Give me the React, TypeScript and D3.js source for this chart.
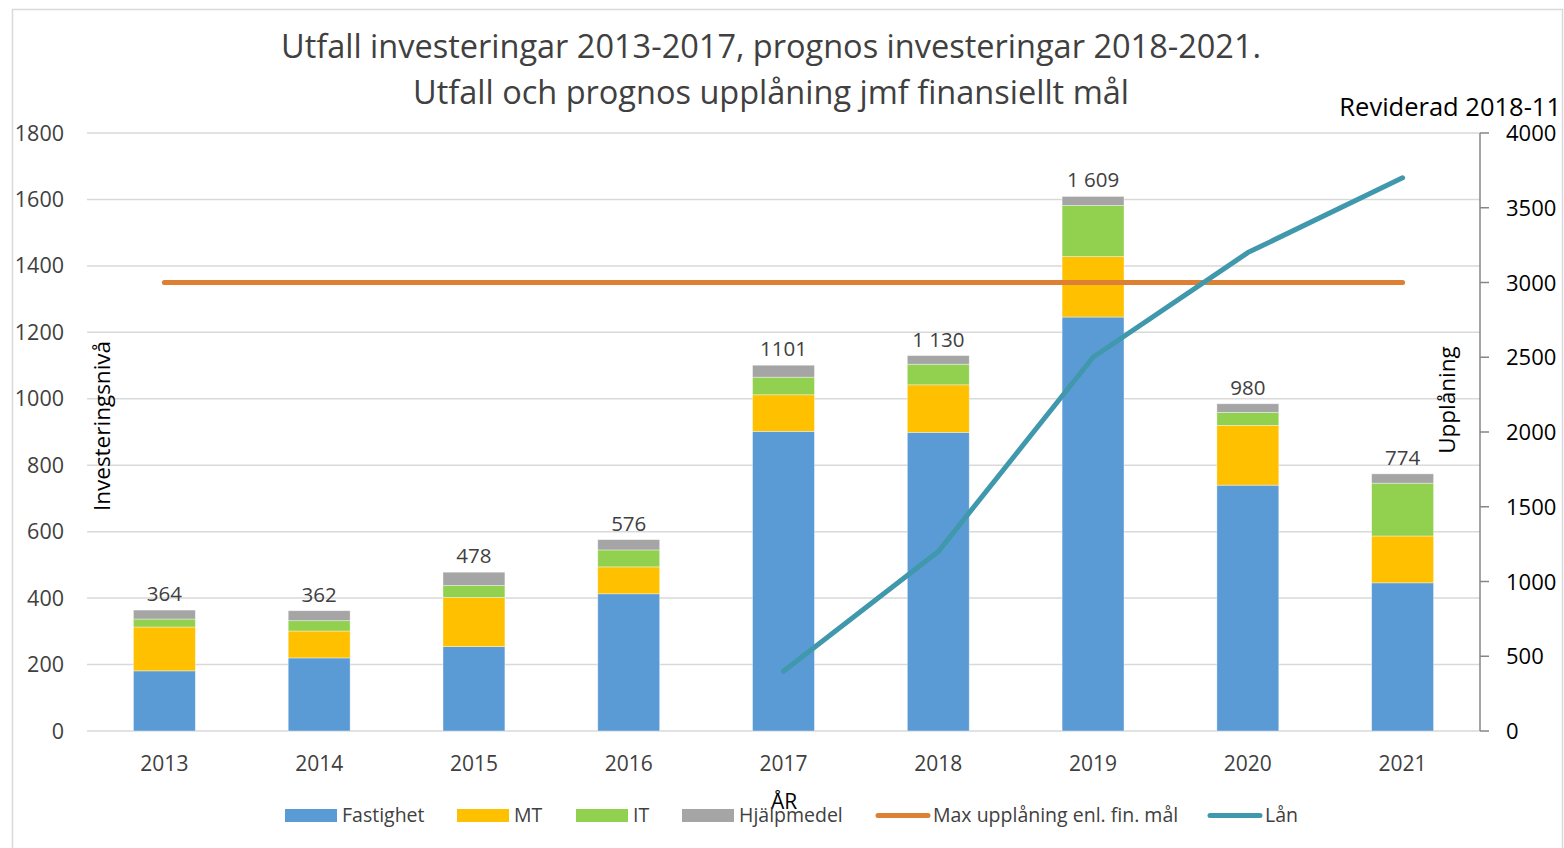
import { useEffect } from "react";
import * as d3 from "d3";

const years = ["2013", "2014", "2015", "2016", "2017", "2018", "2019", "2020", "2021"];
const fastighet = [181, 220, 254, 413, 902, 899, 1246, 740, 446];
const mt = [132, 81, 148, 81, 110, 143, 182, 180, 141];
const it = [24, 31, 36, 51, 53, 62, 154, 39, 159];
const hjalpmedel = [27, 30, 40, 31, 36, 26, 27, 26, 28];
const totalLabels = ["364", "362", "478", "576", "1101", "1 130", "1 609", "980", "774"];
const maxUpplaning = [3000, 3000, 3000, 3000, 3000, 3000, 3000, 3000, 3000];
const lan = [null, null, null, null, 400, 1200, 2500, 3200, 3700];
const leftTicks = [0, 200, 400, 600, 800, 1000, 1200, 1400, 1600, 1800];
const rightTicks = [0, 500, 1000, 1500, 2000, 2500, 3000, 3500, 4000];

const seriesKeys = ["Fastighet", "MT", "IT", "Hjälpmedel"];
const seriesColors = ["#5b9bd5", "#ffc000", "#92d050", "#a5a5a5"];
const FONT = "'Open Sans', 'DejaVu Sans', sans-serif";

export default function App() {
  useEffect(() => {
    document.body.style.margin = "0";
  }, []);

  const W = 1564;
  const H = 848;

  const x = d3.scaleBand<string>().domain(years).range([87, 1480]).paddingInner(0.6).paddingOuter(0.3);
  const yL = d3.scaleLinear().domain([0, 1800]).range([731, 133]);
  const yR = d3.scaleLinear().domain([0, 4000]).range([731, 133]);

  const rows = years.map((yr, i) => ({
    year: yr,
    Fastighet: fastighet[i],
    MT: mt[i],
    IT: it[i],
    "Hjälpmedel": hjalpmedel[i],
  }));
  const stacked = d3.stack<any>().keys(seriesKeys)(rows);

  const cx = (yr: string) => (x(yr) as number) + x.bandwidth() / 2;

  const lineGen = d3
    .line<number | null>()
    .defined((d) => d != null)
    .x((_, i) => cx(years[i]))
    .y((d) => yR(d as number));

  const legendItems = [
    { type: "rect", color: "#5b9bd5", label: "Fastighet", x: 285 },
    { type: "rect", color: "#ffc000", label: "MT", x: 457 },
    { type: "rect", color: "#92d050", label: "IT", x: 576 },
    { type: "rect", color: "#a5a5a5", label: "Hjälpmedel", x: 682 },
    { type: "line", color: "#dd8034", label: "Max upplåning enl. fin. mål", x: 876 },
    { type: "line", color: "#4098ad", label: "Lån", x: 1208 },
  ];

  return (
    <svg width={W} height={H} style={{ display: "block", background: "#fff" }} fontFamily={FONT}>
      {/* chart frame */}
      <rect x={12.5} y={9.5} width={1550} height={850} fill="none" stroke="#d9d9d9" strokeWidth={1.5} />

      {/* title */}
      <text x={771} y={58} textAnchor="middle" fontSize={32.5} fill="#404040">
        Utfall investeringar 2013-2017, prognos investeringar 2018-2021.
      </text>
      <text x={771} y={104} textAnchor="middle" fontSize={32.5} fill="#404040">
        Utfall och prognos upplåning jmf finansiellt mål
      </text>
      <text x={1561} y={116} textAnchor="end" fontSize={25.5} fill="#000">
        Reviderad 2018-11
      </text>

      {/* grid */}
      {leftTicks.map((t) => (
        <line key={t} x1={87} x2={1480} y1={yL(t)} y2={yL(t)} stroke="#d9d9d9" strokeWidth={1.5} />
      ))}

      {/* left ticks */}
      {leftTicks.map((t) => (
        <text key={t} x={64} y={yL(t) + 7.5} textAnchor="end" fontSize={21.5} fill="#404040">
          {t}
        </text>
      ))}

      {/* stacked bars */}
      {stacked.map((s, si) => (
        <g key={s.key} fill={seriesColors[si]}>
          {s.map((d, i) => (
            <rect
              key={years[i]}
              x={x(years[i])}
              y={yL(d[1])}
              width={x.bandwidth()}
              height={yL(d[0]) - yL(d[1])}
              stroke="#ffffff"
              strokeOpacity={0.5}
              strokeWidth={0.75}
            />
          ))}
        </g>
      ))}

      {/* total labels */}
      {years.map((yr, i) => (
        <text key={yr} x={cx(yr)} y={yL(stacked[3][i][1]) - 9} textAnchor="middle" fontSize={20.5} fill="#404040">
          {totalLabels[i]}
        </text>
      ))}

      {/* x labels */}
      {years.map((yr) => (
        <text key={yr} x={cx(yr)} y={771} textAnchor="middle" fontSize={21} fill="#404040">
          {yr}
        </text>
      ))}
      <text x={784} y={809} textAnchor="middle" fontSize={21} fill="#000">
        ÅR
      </text>

      {/* lines */}
      <path d={lineGen(maxUpplaning) || ""} fill="none" stroke="#dd8034" strokeWidth={5} strokeLinecap="round" />
      <path d={lineGen(lan) || ""} fill="none" stroke="#4098ad" strokeWidth={5} strokeLinecap="round" strokeLinejoin="round" />

      {/* right axis */}
      <line x1={1480} x2={1480} y1={yR(0)} y2={yR(4000)} stroke="#868686" strokeWidth={1.5} />
      {rightTicks.map((t) => (
        <g key={t}>
          <line x1={1480} x2={1489} y1={yR(t)} y2={yR(t)} stroke="#868686" strokeWidth={1.5} />
          <text x={1506} y={yR(t) + 8} fontSize={22} fill="#000">
            {t}
          </text>
        </g>
      ))}

      {/* axis titles */}
      <text transform="translate(110,426) rotate(-90)" textAnchor="middle" fontSize={22.5} fill="#000">
        Investeringsnivå
      </text>
      <text transform="translate(1455,400) rotate(-90)" textAnchor="middle" fontSize={22.5} fill="#000">
        Upplåning
      </text>

      {/* legend */}
      {legendItems.map((it) => (
        <g key={it.label}>
          {it.type === "rect" ? (
            <rect x={it.x} y={809} width={52} height={13} fill={it.color} />
          ) : (
            <line x1={it.x + 2} x2={it.x + 52} y1={815.5} y2={815.5} stroke={it.color} strokeWidth={5} strokeLinecap="round" />
          )}
          <text x={it.x + 57} y={822} fontSize={19.5} fill="#404040">
            {it.label}
          </text>
        </g>
      ))}
    </svg>
  );
}
